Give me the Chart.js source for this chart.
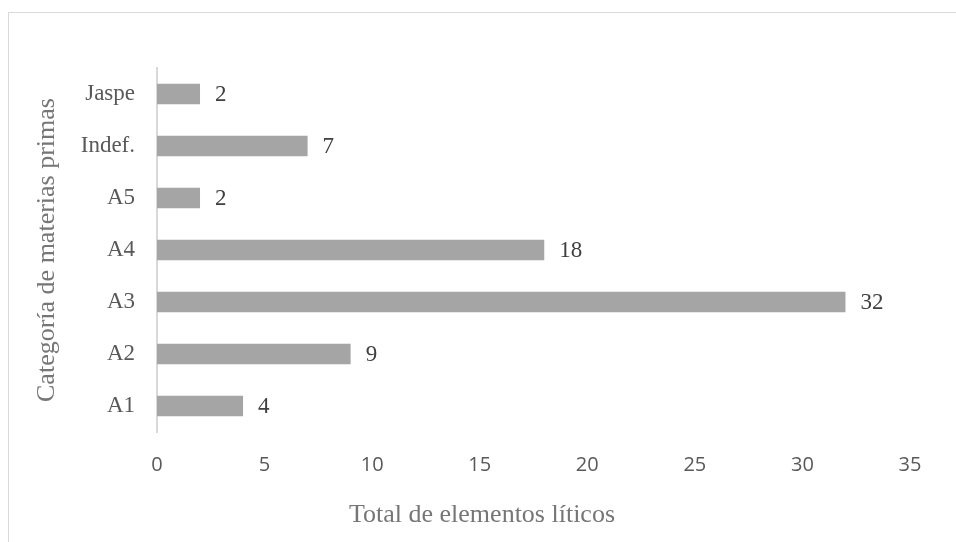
<!DOCTYPE html>
<html>
<head>
<meta charset="utf-8">
<script src="https://cdn.jsdelivr.net/npm/chart.js@4"></script>
<style>
  html, body { margin: 0; padding: 0; background: #fff; overflow: hidden; }
  .frame { position: absolute; left: 8px; top: 12px; width: 1000px; height: 600px; border: 1px solid #d9d9d9; }
  #materiasChart { position: absolute; left: 0; top: 0; }
</style>
</head>
<body>
<div class="frame"></div>
<canvas id="materiasChart" width="956" height="542"></canvas>
<script>
// raw material categories, listed top to bottom
const categorias = ['Jaspe', 'Indef.', 'A5', 'A4', 'A3', 'A2', 'A1'];
const totales = [2, 7, 2, 18, 32, 9, 4];
const ejeX = { min: 0, max: 35, step: 5 };

const serif = "'Liberation Serif', 'Times New Roman', serif";

// value next to the end of each bar
const valueLabels = {
  id: 'valueLabels',
  afterDatasetsDraw(chart) {
    const ctx = chart.ctx;
    const meta = chart.getDatasetMeta(0);
    ctx.save();
    ctx.font = '23px ' + serif;
    ctx.fillStyle = '#404040';
    ctx.textAlign = 'left';
    ctx.textBaseline = 'middle';
    meta.data.forEach(function (bar, i) {
      const p = bar.getProps(['x', 'y'], true);
      ctx.fillText(String(chart.data.datasets[0].data[i]), p.x + 15, p.y + 1);
    });
    ctx.restore();
  }
};

// axis titles in the serif face
const axisTitles = {
  id: 'axisTitles',
  afterDraw(chart) {
    const ctx = chart.ctx;
    const area = chart.chartArea;
    ctx.save();
    ctx.font = '26px ' + serif;
    ctx.fillStyle = '#767676';
    ctx.textAlign = 'center';
    ctx.textBaseline = 'middle';
    ctx.fillText('Total de elementos líticos', (chart.width + 8) / 2, chart.height - 27);
    ctx.translate(47, (area.top + area.bottom) / 2);
    ctx.rotate(-Math.PI / 2);
    ctx.fillText('Categoría de materias primas', 0, 0);
    ctx.restore();
  }
};

const ctx = document.getElementById('materiasChart').getContext('2d');
const chart = new Chart(ctx, {
  type: 'bar',
  data: {
    labels: categorias,
    datasets: [{
      data: totales,
      backgroundColor: '#a5a5a5',
      borderWidth: 0,
      barPercentage: 0.39,
      categoryPercentage: 1
    }]
  },
  options: {
    indexAxis: 'y',
    responsive: false,
    animation: false,
    devicePixelRatio: 1,
    layout: { padding: { top: 68, right: 46, left: 0, bottom: 0 } },
    plugins: {
      legend: { display: false },
      tooltip: { enabled: false }
    },
    scales: {
      x: {
        min: ejeX.min,
        max: ejeX.max,
        grid: { display: false, drawTicks: false },
        border: { display: false },
        ticks: {
          stepSize: ejeX.step,
          padding: 21,
          color: '#595959',
          font: { family: "'Open Sans', sans-serif", size: 20 }
        },
        afterFit(scale) { scale.height = 110; }
      },
      y: {
        grid: { display: false, drawTicks: false },
        border: { display: true, color: '#d9d9d9', width: 2 },
        ticks: {
          padding: 22,
          color: '#595959',
          font: { family: serif, size: 23 }
        },
        afterFit(scale) { scale.width = 157; }
      }
    }
  },
  plugins: [valueLabels, axisTitles]
});
</script>
</body>
</html>
